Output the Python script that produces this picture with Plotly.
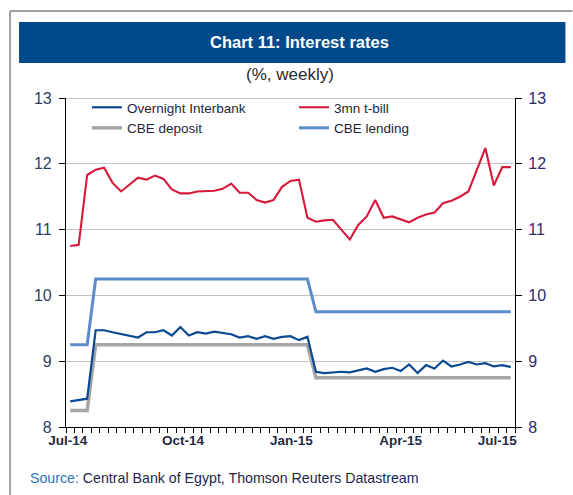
import plotly.graph_objects as go

# weekly observations, Jul-14 .. Jul-15 (53 weeks)
weeks = list(range(53))

overnight = [8.39, 8.41, 8.43, 9.47, 9.47, 9.44, 9.41, 9.39, 9.36, 9.44,
             9.44, 9.47, 9.39, 9.52, 9.39, 9.44, 9.42, 9.45, 9.43, 9.41,
             9.36, 9.38, 9.34, 9.38, 9.34, 9.37, 9.38, 9.32, 9.37, 8.84,
             8.82, 8.83, 8.84, 8.83, 8.86, 8.89, 8.84, 8.88, 8.90, 8.85,
             8.95, 8.82, 8.94, 8.89, 9.01, 8.92, 8.95, 8.99, 8.95, 8.97,
             8.92, 8.94, 8.91]

tbill = [10.75, 10.77, 11.83, 11.91, 11.94, 11.71, 11.58, 11.68, 11.79, 11.76,
         11.82, 11.77, 11.61, 11.55, 11.55, 11.58, 11.58, 11.59, 11.62, 11.70,
         11.56, 11.56, 11.45, 11.41, 11.45, 11.65, 11.74, 11.76, 11.18, 11.12,
         11.14, 11.15, 11.00, 10.85, 11.07, 11.20, 11.45, 11.18, 11.20, 11.15,
         11.11, 11.18, 11.23, 11.26, 11.40, 11.44, 11.50, 11.58, 11.91, 12.24,
         11.67, 11.95, 11.95]

cbe_deposit = [8.25, 8.25, 8.25, 9.25, 9.25, 9.25, 9.25, 9.25, 9.25, 9.25,
               9.25, 9.25, 9.25, 9.25, 9.25, 9.25, 9.25, 9.25, 9.25, 9.25,
               9.25, 9.25, 9.25, 9.25, 9.25, 9.25, 9.25, 9.25, 9.25, 8.75,
               8.75, 8.75, 8.75, 8.75, 8.75, 8.75, 8.75, 8.75, 8.75, 8.75,
               8.75, 8.75, 8.75, 8.75, 8.75, 8.75, 8.75, 8.75, 8.75, 8.75,
               8.75, 8.75, 8.75]

cbe_lending = [9.25, 9.25, 9.25, 10.25, 10.25, 10.25, 10.25, 10.25, 10.25, 10.25,
               10.25, 10.25, 10.25, 10.25, 10.25, 10.25, 10.25, 10.25, 10.25, 10.25,
               10.25, 10.25, 10.25, 10.25, 10.25, 10.25, 10.25, 10.25, 10.25, 9.75,
               9.75, 9.75, 9.75, 9.75, 9.75, 9.75, 9.75, 9.75, 9.75, 9.75,
               9.75, 9.75, 9.75, 9.75, 9.75, 9.75, 9.75, 9.75, 9.75, 9.75,
               9.75, 9.75, 9.75]

month_labels = ["Jul-14", "Oct-14", "Jan-15", "Apr-15", "Jul-15"]
month_pos = [-0.3, 13.3, 26.1, 39.0, 50.4]
y_ticks = [8, 9, 10, 11, 12, 13]

W, H = 573, 495
L, R, T, B = 66, 57.5, 98, 68
PW, PH = W - L - R, H - T - B


def px_x(px):
    return (px - L) / PW


def px_y(py):
    return (H - B - py) / PH


fig = go.Figure()

# deposit first so the interbank line sits on top of it
fig.add_trace(go.Scatter(x=weeks, y=cbe_deposit, name="CBE deposit", legendrank=3,
                         mode="lines", line=dict(color="#A6A6A6", width=3.5)))
fig.add_trace(go.Scatter(x=weeks, y=overnight, name="Overnight Interbank", legendrank=1,
                         mode="lines", line=dict(color="#0B4A92", width=2.2)))
fig.add_trace(go.Scatter(x=weeks, y=tbill, name="3mn t-bill", legendrank=2,
                         mode="lines", line=dict(color="#D7193C", width=2.1)))
fig.add_trace(go.Scatter(x=weeks, y=cbe_lending, name="CBE lending", legendrank=4,
                         mode="lines", line=dict(color="#5B8BCA", width=3)))

# dummy trace so the right axis gets drawn
fig.add_trace(go.Scatter(x=[weeks[0]], y=[overnight[0]], yaxis="y2",
                         mode="lines", showlegend=False, hoverinfo="skip",
                         line=dict(width=0)))

fig.update_layout(
    width=W, height=H,
    margin=dict(l=L, r=R, t=T, b=B),
    paper_bgcolor="white", plot_bgcolor="white",
    font=dict(family="Arial, Liberation Sans, sans-serif", color="#1F2A44"),
    showlegend=True,
    legend=dict(orientation="h", x=px_x(87), y=px_y(92), xanchor="left", yanchor="top",
                entrywidth=162, entrywidthmode="pixels", traceorder="normal",
                font=dict(size=13.5, color="#1F1F3A"), bgcolor="rgba(0,0,0,0)",
                itemwidth=30),
    xaxis=dict(range=[-0.5, 52.5], tickmode="array", tickvals=month_pos,
               ticktext=month_labels, ticks="", showgrid=False, zeroline=False,
               showline=True, linecolor="black", linewidth=1.2, ticklabelstandoff=1,
               tickfont=dict(size=13.5, weight="bold", color="#1F2A44"),
               minor=dict(ticks="outside", tick0=-0.5, dtick=1, ticklen=5,
                          tickcolor="black", tickwidth=1, showgrid=False)),
    yaxis=dict(range=[8, 13], tickvals=y_ticks, ticks="outside", ticklen=6,
               tickcolor="black", showline=True, linecolor="black", linewidth=1.2,
               showgrid=True, gridcolor="#C4C4C4", gridwidth=1.2, zeroline=False,
               ticklabelstandoff=4, tickfont=dict(size=16, color="#2B3F66")),
    yaxis2=dict(range=[8, 13], tickvals=y_ticks, overlaying="y", side="right",
                ticks="outside", ticklen=6, tickcolor="black", showline=True,
                linecolor="black", linewidth=1.2, showgrid=False, zeroline=False,
                ticklabelstandoff=3, tickfont=dict(size=16, color="#33296B")),
)

shapes = [
    # outer frame (top and left)
    dict(type="line", xref="paper", yref="paper", x0=px_x(10), x1=px_x(573),
         y0=px_y(11), y1=px_y(11), line=dict(color="#A0A0A0", width=2)),
    dict(type="line", xref="paper", yref="paper", x0=px_x(10), x1=px_x(10),
         y0=px_y(11), y1=px_y(495), line=dict(color="#A0A0A0", width=2)),
    # title banner
    dict(type="rect", xref="paper", yref="paper", x0=px_x(19), x1=px_x(566),
         y0=px_y(63), y1=px_y(22), fillcolor="#004A8C", line=dict(width=0)),
    # top border of plot area
    dict(type="line", xref="paper", yref="y", x0=0, x1=1, y0=13, y1=13,
         line=dict(color="#B0B0B0", width=1.5)),
]
fig.update_layout(shapes=shapes)

fig.add_annotation(text="<b>Chart 11: Interest rates</b>", xref="paper", yref="paper",
                   x=px_x(300), y=px_y(42), xanchor="center", yanchor="middle",
                   showarrow=False, font=dict(size=16.5, color="white"))
fig.add_annotation(text="(%, weekly)", xref="paper", yref="paper",
                   x=px_x(290), y=px_y(74), xanchor="center", yanchor="middle",
                   showarrow=False, font=dict(size=17, color="#2A2A2A"))
fig.add_annotation(text="<span style='color:#2E74B5'>Source:</span> Central Bank of Egypt, Thomson Reuters Datastream",
                   xref="paper", yref="paper", x=px_x(28), y=px_y(478),
                   xanchor="left", yanchor="middle", showarrow=False,
                   font=dict(size=14.2, color="#1F2551"))

fig.write_html("out.html", config={"displayModeBar": False},
               post_script="document.body.style.margin='0';")
